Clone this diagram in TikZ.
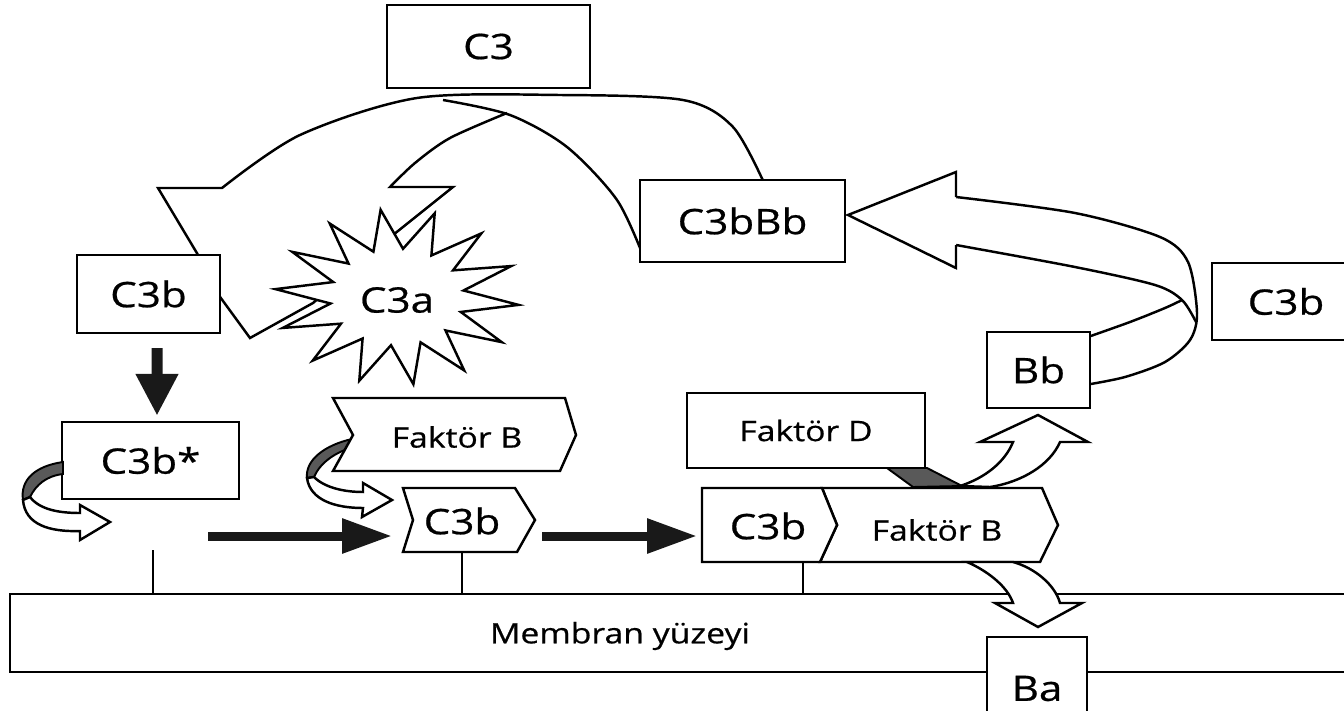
\documentclass[tikz,border=0pt]{standalone}
\usepackage{fontspec}
\setmainfont{Open Sans}[FakeStretch=1.2, FakeBold=0.6]
\usetikzlibrary{arrows.meta}

\tikzset{
  ince/.style={line width=1.4pt, line join=miter},
  kutu/.style={draw, line width=1.4pt, fill=white, inner sep=0pt, font=\fontsize{20}{22}\selectfont},
  serit/.style={draw, line width=1.4pt, fill=white, line join=miter},
  gri/.style={draw, line width=1.1pt, fill=black!65},
  kalinok/.style={black!90, line width=0.18cm, -{Triangle[length=1cm,width=0.66cm]}},
  yazi/.style={inner sep=0pt, font=\fontsize{16}{18}\selectfont},
  buyuk/.style={inner sep=0pt, font=\fontsize{20}{22}\selectfont},
}

\begin{document}
\begin{tikzpicture}[x=0.02cm, y=-0.02cm]
  \useasboundingbox (0,0) rectangle (1344,710);
  \clip (0,0) rectangle (1344,710);

  % Adım 1: Membran yüzeyi
  \draw[ince] (1350,594) -- (10,594) -- (10,672) -- (1350,672);
  \node[yazi] (memb) at (620,636) {Membran yüzeyi};

  % Adım 2: C3bBb'den C3b'ye giden şerit ok (C3a kolu ile)
  \draw[ince] plot[smooth] coordinates {(765,185) (733,127) (683,100) (560,95) (417,98) (300,135) (222,188)}
     -- (158,188) -- (216,285);
  \draw[ince] plot[smooth] coordinates {(644,258) (617,200) (567,147) (510,115) (443,100)};
  \draw[ince] plot[smooth] coordinates {(507,113) (450,138) (415,163) (390,187)}
     -- (453,187) -- (383,243) -- (313,303) -- (250,338) -- (215,290);

  % Adım 3: Bb'den C3bBb'ye giden şerit ok
  \draw[ince] plot[smooth] coordinates {(956,197) (1075,213) (1160,237) (1188,262) (1197,313) (1190,340) (1165,362) (1125,377) (1085,385)};
  \draw[ince] plot[smooth] coordinates {(956,245) (1075,267) (1155,285) (1182,300) (1196,322)};
  \draw[ince] plot[smooth] coordinates {(1085,338) (1130,322) (1165,308) (1182,300)};
  \draw[serit] (956,197) -- (956,172) -- (848,215) -- (956,268) -- (956,245);

  % Adım 4: C3a yıldızı
  \draw[serit] plot[samples at={0,...,27}, variable=\i]
     ({397+122*(1-0.45*mod(\i,2))*cos(72+\i*180/14)}, {297-88*(1-0.45*mod(\i,2))*sin(72+\i*180/14)}) -- cycle;
  \node[buyuk] (c3a) at (397,300) {C3a};

  % Adım 5: Kutular
  \node[kutu, minimum width=4.06cm, minimum height=1.66cm] (c3) at (488.5,46.5) {C3};
  \node[kutu, minimum width=2.86cm, minimum height=1.56cm] (c3bl) at (148.5,294) {C3b};
  \node[kutu, minimum width=3.54cm, minimum height=1.54cm] (c3bs) at (150.5,460.5) {C3b*};
  \node[kutu, minimum width=4.1cm, minimum height=1.64cm] (c3bbb) at (742.5,221) {C3bBb};
  \node[kutu, minimum width=2.96cm, minimum height=1.54cm] (c3br) at (1286,301.5) {C3b};
  \node[kutu, minimum width=2.06cm, minimum height=1.52cm] (bb) at (1038.5,370) {Bb};

  % Adım 6: Kıvrık oklar
  \draw[gri] (63,462) .. controls (35,466) and (20,480) .. (23,500) -- (30,497) .. controls (36,485) and (46,476) .. (63,474) -- cycle;
  \draw[serit] (23,500) .. controls (25,525) and (50,532) .. (80,531) -- (80,540) -- (110,522) -- (80,505) -- (80,513) .. controls (60,513) and (40,510) .. (30,497) -- cycle;
  \draw[gri] (352,439) .. controls (325,445) and (305,460) .. (307,478) -- (314,477) .. controls (320,463) and (335,452) .. (354,447) -- cycle;
  \draw[serit] (307,478) .. controls (310,500) and (335,508) .. (363,508) -- (362,517) -- (392,500) -- (363,483) -- (363,492) .. controls (345,492) and (325,488) .. (314,477) -- cycle;

  % Adım 7: Faktör B ve C3b
  \draw[serit] (333,398) -- (565,398) -- (576,435) -- (560,471) -- (333,471) -- (353,435) -- cycle;
  \node[yazi] (fakb1) at (457,437) {Faktör B};
  \draw[serit] (403,488) -- (515,488) -- (535,520) -- (517,552) -- (403,552) -- (413,520) -- cycle;
  \node[buyuk] (c3bm) at (462,521) {C3b};

  % Adım 8: C3b-Faktör B kompleksi ve Faktör D
  \draw[serit] (822,488) -- (1042,488) -- (1058,525) -- (1040,562) -- (820,562) -- (837,525) -- cycle;
  \draw[serit] (702,488) -- (822,488) -- (837,525) -- (820,562) -- (702,562) -- cycle;
  \node[buyuk] (c3bk) at (768,526) {C3b};
  \node[yazi] (fakb2) at (937,530) {Faktör B};
  \node[kutu, font=\fontsize{16}{18}\selectfont, minimum width=4.76cm, minimum height=1.5cm] (fakd) at (806,430.5) {Faktör D};
  \draw[gri] (887,468) -- (927,468) -- (962,486) -- (913,487) -- cycle;
  \draw[serit] (960,486) .. controls (985,478) and (1005,462) .. (1013,442) -- (980,442) -- (1038,415) -- (1088,442) -- (1060,442) .. controls (1050,465) and (1022,482) .. (990,487) -- cycle;
  \draw[serit] (967,562) .. controls (990,572) and (1008,588) .. (1013,603) -- (995,603) -- (1038,627) -- (1082,603) -- (1060,603) .. controls (1055,585) and (1035,568) .. (1013,562) -- cycle;
  \node[kutu, minimum width=2cm, minimum height=2.06cm] (ba) at (1037,688.5) {Ba};

  % Adım 9: Membrana bağlantılar
  \coordinate (t1) at (153,550);
  \coordinate (m1) at (153,594);
  \coordinate (t2) at (462,552);
  \coordinate (m2) at (462,594);
  \coordinate (t3) at (803,562);
  \coordinate (m3) at (803,594);
  \draw[ince] (t1) -- (m1);
  \draw[ince] (t2) -- (m2);
  \draw[ince] (t3) -- (m3);

  % Adım 10: Kalın oklar
  \coordinate (k1) at (208,536);
  \coordinate (k2) at (392,536);
  \coordinate (k3) at (542,536);
  \coordinate (k4) at (697,536);
  \draw[kalinok] (k1) -- (k2);
  \draw[kalinok] (k3) -- (k4);
  \draw[kalinok, line width=0.22cm, -{Triangle[length=0.84cm,width=0.8cm]}]
     ([xshift=0.17cm, yshift=-0.28cm]c3bl.south) -- ([xshift=0.13cm, yshift=0.1cm]c3bs.north);
\end{tikzpicture}
\end{document}
